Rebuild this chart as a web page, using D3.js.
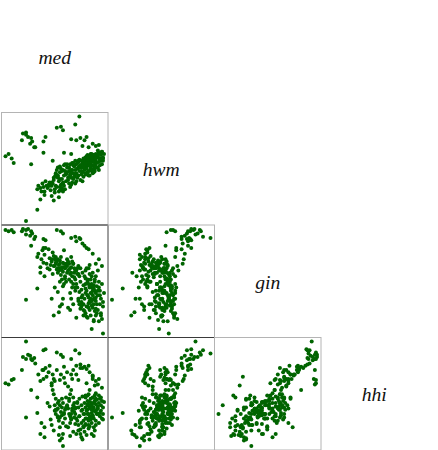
<!DOCTYPE html>
<html>
<head>
<meta charset="utf-8">
<script src="https://cdn.jsdelivr.net/npm/d3@7"></script>
<style>
  body { margin: 0; background: #fff; }
  svg { display: block; }
  .label { font-family: 'Liberation Serif', 'Times New Roman', 'DejaVu Serif', serif; font-style: italic; font-size: 20px; fill: #111; }
</style>
</head>
<body>
<div class="chart"></div>
<script>
// variable names, in matrix order
const vars = ['med', 'hwm', 'gin', 'hhi'];

// one value per observation, same order in every array
const med = [
  2, 5, 8, 10,
  19, 22, 24, 27, 28, 26, 18, 30, 31, 22, 27,
  74, 70, 52, 56, 58, 41, 39, 66, 71, 75, 79, 81, 77, 83, 87, 93, 90, 96, 92, 39, 59, 66,
  22, 33, 49, 54, 47, 57, 58, 55, 36, 40,
  33, 34, 36, 37, 38, 39, 40, 41, 42, 43, 44, 45, 46, 47, 48, 49,
  50, 50, 51, 51, 52, 52, 53, 53, 54, 54, 55, 55, 56, 56, 57, 57, 58, 58, 59, 59, 60, 60, 61, 61, 62, 62, 50, 53, 55, 48, 60, 58,
  63, 63, 64, 64, 65, 65, 66, 66, 67, 67, 68, 68, 69, 69, 70, 70, 71, 71, 72, 72, 73, 73, 74, 74, 75, 75, 76, 76, 77, 77, 78, 78, 77, 65, 70, 68, 73, 66,
  79, 79, 80, 80, 81, 81, 82, 82, 82, 83, 83, 84, 84, 84, 85, 85, 85, 86, 86, 86, 87, 87, 87, 88, 88, 88, 89, 89, 89, 90, 90, 90, 91, 91, 80, 83, 86, 81, 84, 88, 90, 85, 82, 87, 89, 83, 86, 80,
  92, 92, 93, 93, 94, 94, 95, 95, 96, 96, 97, 97, 98, 95, 93, 97,
  62, 64, 66, 68, 70, 72, 74, 76, 78, 80, 82, 84, 86, 88, 90, 92, 94, 79, 81, 83, 85, 87, 89, 91, 76, 73, 71, 69, 67, 65, 63, 61, 59, 57, 55, 53, 51, 49, 47, 45, 82, 86, 88, 90, 84, 80, 78, 75
];
const hwm = [
  62, 64, 60, 56,
  82, 81, 79, 78, 75, 73, 76, 70, 70, 83, 55,
  97, 90, 87, 88, 85, 79, 75, 77, 76, 78, 76, 79, 71, 70, 73, 72, 71, 66, 67, 65, 65, 64,
  5, 15, 23, 26, 27, 33, 31, 35, 24, 28,
  33, 36, 34, 31, 38, 35, 31, 40, 36, 34, 37, 39, 32, 36, 38, 41,
  44, 33, 47, 36, 50, 35, 45, 52, 40, 31, 53, 48, 37, 51, 42, 34, 50, 39, 54, 36, 49, 33, 46, 40, 52, 55, 30, 43, 32, 58, 55, 38,
  41, 52, 38, 49, 45, 55, 43, 50, 39, 56, 47, 42, 53, 44, 58, 46, 40, 55, 43, 51, 57, 45, 49, 59, 41, 54, 52, 46, 56, 48, 60, 44, 40, 35, 38, 56, 58, 37,
  50, 58, 46, 61, 52, 55, 59, 48, 63, 54, 49, 60, 45, 62, 56, 51, 60, 49, 57, 64, 50, 59, 47, 61, 53, 63, 55, 60, 49, 58, 64, 52, 61, 56, 47, 45, 50, 62, 57, 48, 53, 64, 46, 60, 51, 58, 54, 52,
  62, 52, 65, 57, 60, 54, 64, 58, 66, 55, 58, 61, 64, 63, 50, 60,
  48, 52, 47, 54, 50, 56, 53, 58, 55, 60, 57, 62, 59, 63, 61, 64, 59, 54, 51, 56, 53, 60, 57, 62, 49, 52, 47, 44, 50, 46, 43, 47, 45, 49, 42, 44, 46, 43, 39, 36, 59, 61, 58, 60, 54, 56, 52, 54
];
const gin = [
  96, 95, 96, 94,
  97, 96, 97, 95, 93, 91, 95, 88, 90, 92, 82,
  89, 90, 96, 95, 93, 87, 88, 89, 86, 88, 82, 80, 84, 79, 75, 70, 66, 64, 60, 80, 78, 72,
  34, 44, 20, 23, 35, 30, 35, 28, 58, 55,
  72, 75, 63, 70, 78, 67, 74, 80, 66, 62, 79, 71, 65, 70, 76, 73,
  70, 64, 66, 72, 68, 61, 58, 70, 65, 60, 62, 69, 56, 72, 63, 52, 67, 59, 66, 48, 62, 55, 64, 50, 58, 70, 45, 41, 50, 57, 53, 46,
  60, 27, 52, 66, 57, 40, 63, 35, 55, 68, 48, 30, 58, 62, 52, 42, 18, 60, 57, 45, 64, 33, 30, 55, 50, 62, 43, 32, 58, 38, 47, 25, 30, 25, 45, 66, 57, 50,
  55, 35, 22, 60, 42, 28, 50, 38, 18, 62, 31, 45, 25, 57, 40, 20, 52, 8, 33, 48, 27, 58, 38, 44, 15, 30, 52, 24, 42, 36, 55, 20, 46, 30, 48, 36, 45, 62, 65, 16, 40, 35, 28, 42, 34, 48, 55, 40,
  38, 25, 45, 15, 30, 42, 22, 35, 17, 48, 4, 28, 40, 20, 50, 32,
  64, 61, 58, 66, 60, 62, 41, 36, 30, 44, 38, 33, 29, 35, 26, 42, 38, 24, 19, 27, 32, 45, 50, 22, 28, 35, 48, 54, 45, 62, 68, 66, 63, 60, 66, 62, 67, 64, 68, 61, 52, 40, 47, 33, 46, 53, 20, 26
];
const hhi = [
  58, 57, 61, 62,
  82, 80, 84, 80, 79, 83, 70, 81, 76, 96, 52,
  85, 88, 86, 84, 82, 89, 88, 80, 74, 75, 73, 71, 72, 74, 65, 62, 60, 54, 57, 70, 73, 66,
  27, 31, 15, 11, 20, 8, 1, 6, 12, 9,
  45, 66, 60, 22, 70, 62, 18, 72, 64, 40, 68, 74, 25, 58, 66, 62,
  60, 38, 30, 44, 70, 34, 28, 35, 42, 24, 61, 38, 32, 66, 29, 36, 40, 22, 63, 30, 34, 26, 45, 19, 37, 68, 33, 27, 18, 52, 58, 12,
  35, 18, 30, 44, 28, 22, 52, 25, 33, 62, 38, 14, 40, 27, 35, 30, 12, 66, 24, 41, 36, 20, 28, 44, 16, 72, 38, 22, 46, 34, 30, 18, 7, 10, 21, 70, 61, 26,
  40, 30, 20, 45, 33, 26, 38, 42, 47, 48, 24, 36, 19, 52, 35, 28, 44, 38, 31, 40, 64, 62, 45, 33, 18, 36, 42, 56, 15, 39, 49, 24, 30, 43, 26, 20, 12, 58, 68, 10, 32, 38, 34, 28, 47, 30, 35, 21,
  35, 30, 40, 22, 44, 28, 33, 38, 26, 42, 30, 36, 41, 45, 47, 25,
  38, 42, 30, 45, 36, 40, 28, 33, 24, 36, 30, 27, 22, 40, 20, 37, 31, 14, 11, 17, 25, 29, 42, 34, 9, 15, 26, 32, 35, 48, 55, 36, 31, 44, 27, 40, 34, 48, 56, 37, 39, 34, 26, 44, 41, 47, 19, 12
];

const columns = { med: med, hwm: hwm, gin: gin, hhi: hhi };
const data = med.map((d, k) => {
  const row = {};
  vars.forEach(v => row[v] = columns[v][k]);
  return row;
});

var width = 438,
    height = 450,
    left = 1.5,
    cellW = 106.5,
    cellH = 112.5,
    pad = 4;

const x = {}, y = {};
vars.forEach(v => {
  x[v] = d3.scaleLinear().domain(d3.extent(columns[v])).range([pad, cellW - pad]);
  y[v] = d3.scaleLinear().domain(d3.extent(columns[v])).range([cellH - pad, pad]);
});

const col = d3.scaleBand().domain(vars).range([left, left + cellW * vars.length]);
const row = d3.scaleBand().domain(vars).range([0, cellH * vars.length]);

var svg = d3.select('.chart')
  .append('svg')
  .attr('width', width)
  .attr('height', height);

const cells = d3.cross(d3.range(vars.length), d3.range(vars.length))
  .map(([i, j]) => ({ i: i, j: j, rv: vars[i], cv: vars[j] }));

// diagonal labels
const labels = svg.selectAll('text.label')
  .data(cells.filter(c => c.i == c.j))
  .enter()
  .append('text')
  .attr('class', 'label')
  .attr('x', d => col(d.cv) + cellW / 2)
  .attr('y', d => row(d.rv) + cellH / 2 + 7.5)
  .attr('text-anchor', 'middle')
  .text(d => d.rv);

// whatever serif face we get, size it so "hwm" is ~37px wide
const hwmLen = labels.filter(d => d.rv == 'hwm').node().getComputedTextLength();
if (hwmLen > 0) labels.style('font-size', (20 * 37 / hwmLen).toFixed(1) + 'px');

const lower = cells.filter(c => c.i > c.j);

const panel = svg.selectAll('g.cell')
  .data(lower)
  .enter()
  .append('g')
  .attr('class', 'cell')
  .attr('transform', d => `translate(${col(d.cv)},${row(d.rv)})`);

panel.append('rect')
  .attr('width', cellW)
  .attr('height', cellH)
  .attr('fill', 'none')
  .attr('stroke', '#b4b4b4');

// edges shared by two panels come out darker
panel.filter(d => d.i - 1 > d.j)
  .append('line')
  .attr('x1', 0).attr('x2', cellW)
  .attr('y1', 0).attr('y2', 0)
  .attr('stroke', '#3a3a3a');

panel.filter(d => d.i > d.j + 1)
  .append('line')
  .attr('x1', cellW).attr('x2', cellW)
  .attr('y1', 0).attr('y2', cellH)
  .attr('stroke', '#3a3a3a');

panel.each(function(c) {
  d3.select(this).selectAll('circle')
    .data(data)
    .enter()
    .append('circle')
    .attr('cx', d => x[c.cv](d[c.cv]))
    .attr('cy', d => y[c.rv](d[c.rv]))
    .attr('r', 2)
    .attr('fill', '#006400');
});
</script>
</body>
</html>
